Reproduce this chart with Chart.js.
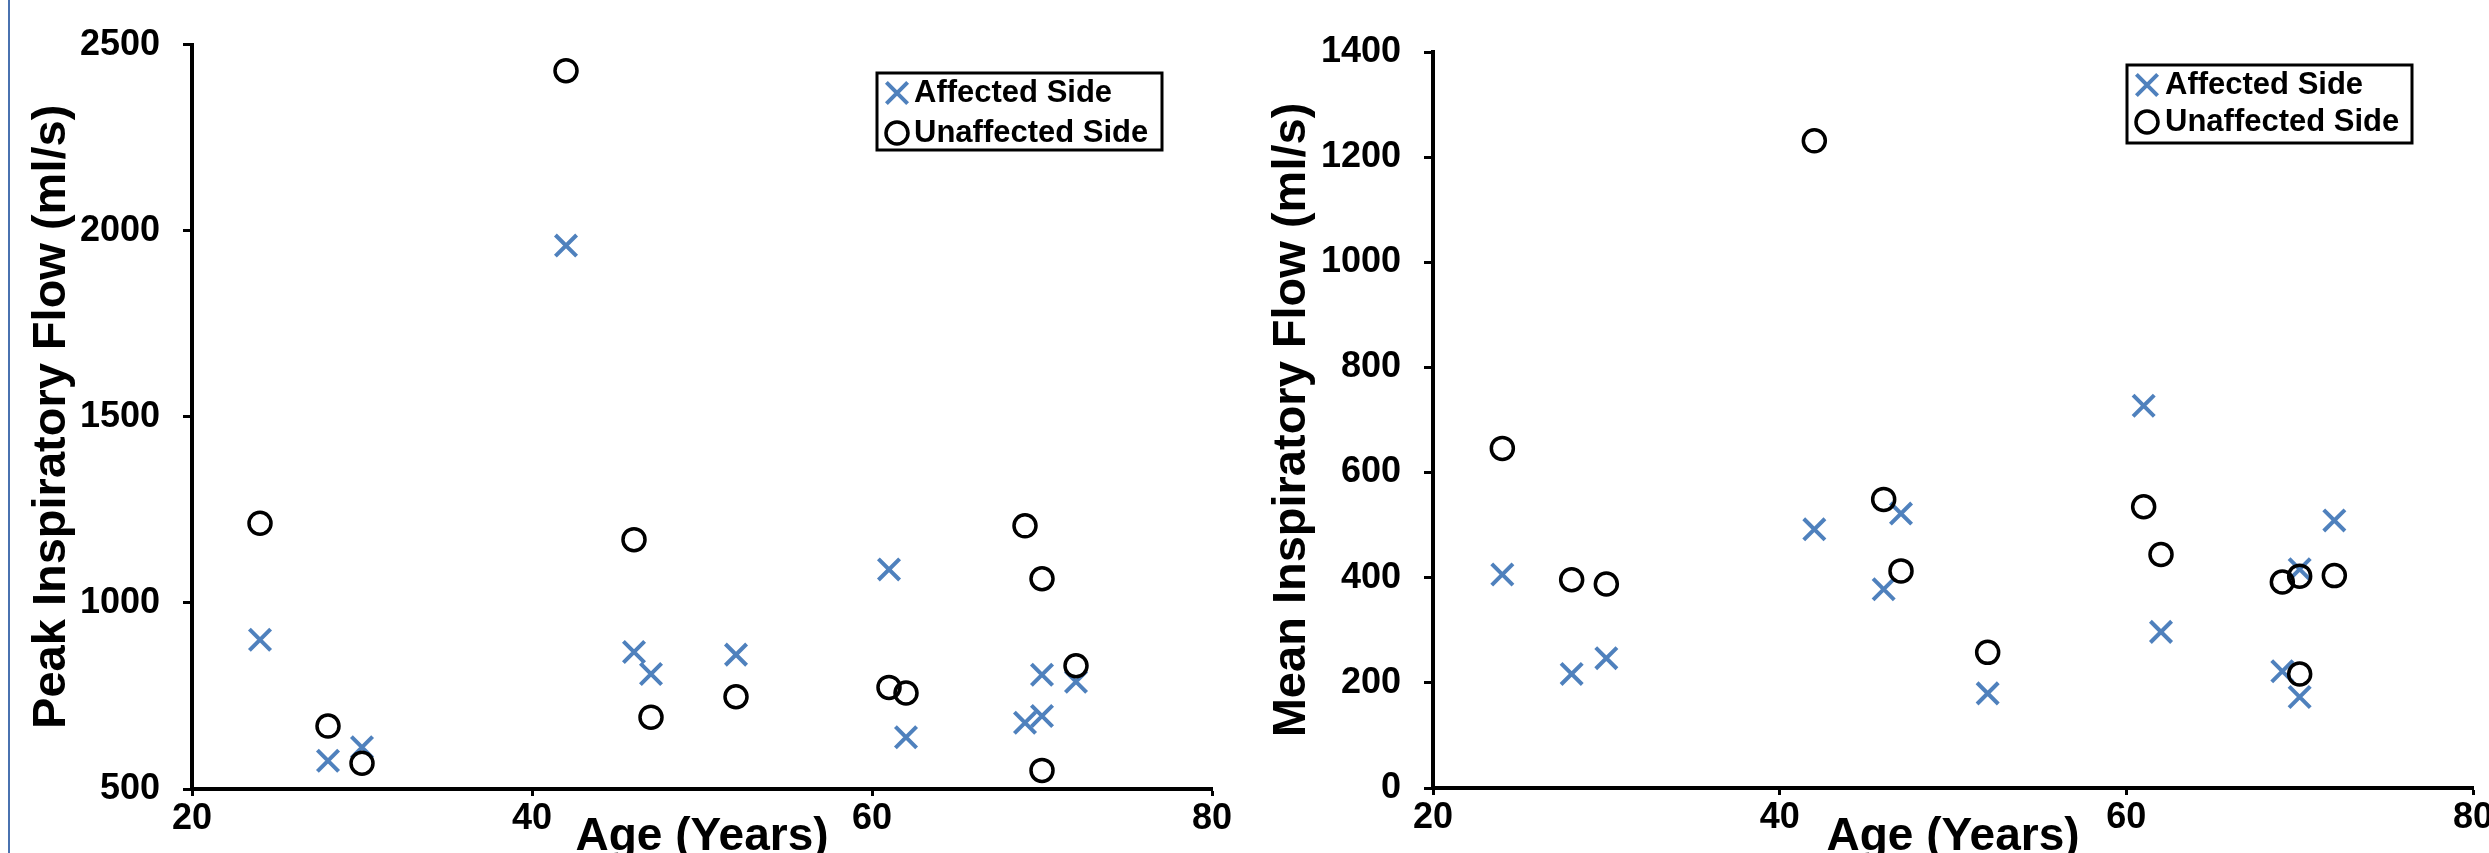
<!DOCTYPE html>
<html>
<head>
<meta charset="utf-8">
<script src="https://cdn.jsdelivr.net/npm/chart.js@4.4.0/dist/chart.umd.min.js"></script>
<style>
  html, body { margin: 0; padding: 0; background: #fff; overflow: hidden; }
  body { width: 2489px; height: 853px; position: relative; }
  #edge { position: absolute; left: 8px; top: 0; width: 2px; height: 853px; background: #4a72b0; }
  canvas { position: absolute; top: 0; }
  #peakChart { left: 0; }
  #meanChart { left: 1245px; }
</style>
</head>
<body>
<div id="edge"></div>
<canvas id="peakChart" width="1245" height="853"></canvas>
<canvas id="meanChart" width="1300" height="853"></canvas>
<script>
// ages of the 13 subjects (x axis, both charts)
const ages = [24, 28, 30, 42, 46, 47, 52, 61, 62, 69, 70, 70, 72];

// peak inspiratory flow (ml/s)
const peakAffected   = [901, 576, 612, 1960, 868, 809, 861, 1090, 639, 678, 696, 807, 788];
const peakUnaffected = [1214, 669, 569, 2430, 1170, 693, 748, 773, 758, 1207, 1065, 550, 831];

// mean inspiratory flow (ml/s)
const meanAffected   = [406, 217, 247, 492, 378, 522, 180, 727, 297, 222, 416, 173, 509];
const meanUnaffected = [646, 396, 388, 1231, 549, 413, 258, 535, 444, 392, 403, 217, 404];

const seriesLabels = ['Affected Side', 'Unaffected Side'];
const xTicks = [20, 40, 60, 80];
const peakTicks = [500, 1000, 1500, 2000, 2500];
const meanTicks = [0, 200, 400, 600, 800, 1000, 1200, 1400];

const FONT = '"Liberation Sans", Arial, sans-serif';
Chart.defaults.font.family = FONT;
Chart.defaults.font.weight = 'bold';
Chart.defaults.color = '#000';

function toPoints(xs, ys) {
  return xs.map((x, i) => ({ x: x, y: ys[i] }));
}

// excel-like boxed legend sitting inside the plot
const boxLegend = {
  id: 'boxLegend',
  afterDraw(chart, args, opts) {
    const ctx = chart.ctx;
    ctx.save();
    ctx.lineWidth = 3;
    ctx.strokeStyle = '#000';
    ctx.strokeRect(opts.x, opts.y, opts.w, opts.h);
    ctx.font = 'bold 31px ' + FONT;
    ctx.textBaseline = 'middle';
    chart.data.datasets.forEach((ds, i) => {
      const cy = opts.y + opts.rowTop + i * opts.rowGap;
      ctx.fillStyle = 'rgba(0,0,0,0)';
      ctx.strokeStyle = ds.borderColor;
      ctx.lineWidth = ds.borderWidth;
      Chart.helpers.drawPoint(ctx, {
        pointStyle: ds.pointStyle,
        radius: ds.pointRadius,
        borderWidth: ds.borderWidth,
        rotation: 0
      }, opts.x + opts.markX, cy);
      ctx.fillStyle = '#000';
      ctx.fillText(ds.label, opts.x + opts.textX, cy);
    });
    ctx.restore();
  }
};

function makeChart(id, yTitle, yTicks, affected, unaffected, geo) {
  const ctx = document.getElementById(id).getContext('2d');
  return new Chart(ctx, {
    type: 'scatter',
    data: {
      datasets: [{
        label: seriesLabels[0],
        data: toPoints(ages, affected),
        pointStyle: 'crossRot',
        pointRadius: 15,
        pointHoverRadius: 15,
        borderWidth: 4,
        borderColor: '#4f81bd',
        backgroundColor: '#4f81bd',
        order: 1
      }, {
        label: seriesLabels[1],
        data: toPoints(ages, unaffected),
        pointStyle: 'circle',
        pointRadius: 11,
        pointHoverRadius: 11,
        borderWidth: 3.5,
        borderColor: '#000',
        backgroundColor: 'rgba(0,0,0,0)',
        order: 0
      }]
    },
    options: {
      responsive: false,
      animation: false,
      layout: { padding: { top: geo.top, right: geo.right, bottom: 0, left: 0 } },
      plugins: {
        legend: { display: false },
        tooltip: { enabled: false },
        boxLegend: geo.legend
      },
      scales: {
        x: {
          type: 'linear',
          min: xTicks[0],
          max: xTicks[xTicks.length - 1],
          afterBuildTicks: s => { s.ticks = xTicks.map(v => ({ value: v })); },
          afterFit: s => { s.height = 853 - geo.bottom; },
          ticks: {
            font: { size: 36, weight: 'bold' }, color: '#000', padding: 1, maxRotation: 0,
            callback: v => String(v)
          },
          grid: { drawOnChartArea: false, drawTicks: true, tickLength: 7, tickWidth: 3, tickColor: '#000' },
          border: { display: true, color: '#000', width: 4 },
          title: {
            display: true,
            text: 'Age (Years)',
            color: '#000',
            font: { size: 46, weight: 'bold' },
            padding: { top: 0, bottom: -12 }
          }
        },
        y: {
          type: 'linear',
          min: yTicks[0],
          max: yTicks[yTicks.length - 1],
          afterBuildTicks: s => { s.ticks = yTicks.map(v => ({ value: v })); },
          afterFit: s => { s.width = geo.left; },
          ticks: {
            font: { size: 36, weight: 'bold' }, color: '#000', padding: 23,
            callback: v => String(v)
          },
          grid: { drawOnChartArea: false, drawTicks: true, tickLength: 9, tickWidth: 3, tickColor: '#000' },
          border: { display: true, color: '#000', width: 4 },
          title: {
            display: true,
            text: yTitle,
            color: '#000',
            font: { size: 47, weight: 'bold' },
            padding: { top: geo.titleTop, bottom: 0 }
          }
        }
      }
    },
    plugins: [boxLegend]
  });
}

makeChart('peakChart', 'Peak Inspiratory Flow (ml/s)', peakTicks, peakAffected, peakUnaffected, {
  left: 192, top: 42, bottom: 789, right: 33, titleTop: 24,
  legend: { x: 877, y: 73, w: 285, h: 77, rowTop: 20, rowGap: 40, markX: 20, textX: 37 }
});

makeChart('meanChart', 'Mean Inspiratory Flow (ml/s)', meanTicks, meanAffected, meanUnaffected, {
  left: 188, top: 52, bottom: 788, right: 72, titleTop: 19,
  legend: { x: 882, y: 65, w: 285, h: 78, rowTop: 20, rowGap: 37, markX: 20, textX: 38 }
});
</script>
</body>
</html>
